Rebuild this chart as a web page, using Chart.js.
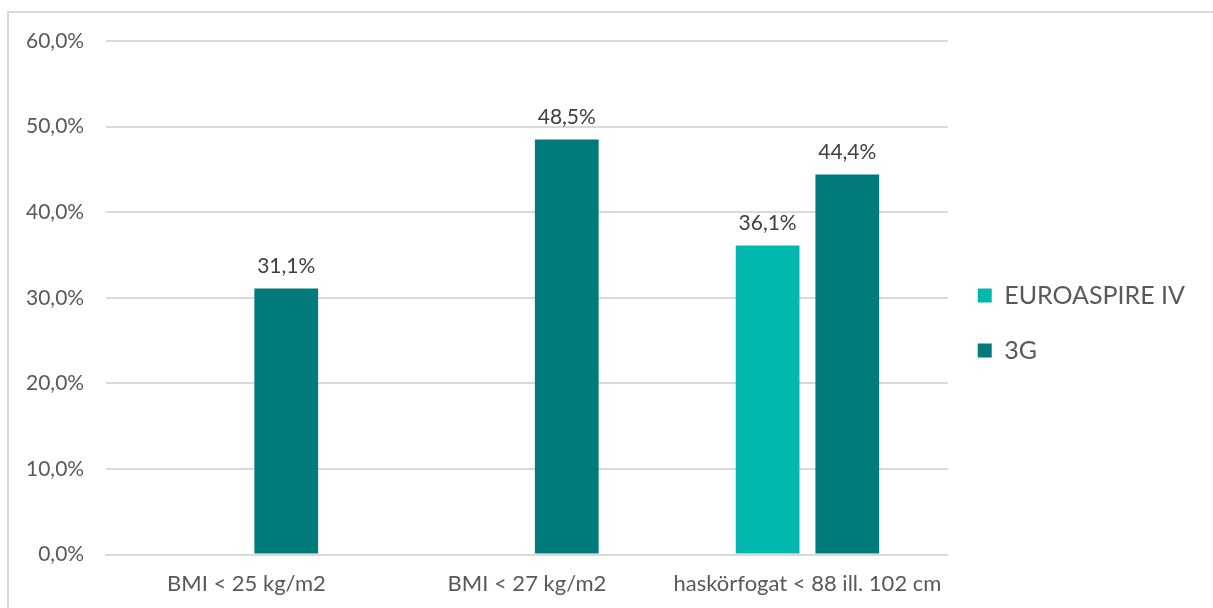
<!DOCTYPE html>
<html>
<head>
<meta charset="utf-8">
<script src="https://cdn.jsdelivr.net/npm/chart.js@4.4.0/dist/chart.umd.min.js"></script>
<style>
    body { margin: 0; background: #fff; overflow: hidden; }
    #frame {
        position: absolute; left: 7px; top: 11px;
        width: 1240px; height: 640px;
        border: 2px solid #d9d9d9;
    }
    #wrap { position: absolute; left: 0; top: 0; width: 1213px; height: 608px; }
</style>
</head>
<body>
<div id="frame"></div>
<div id="wrap"><canvas id="barChart"></canvas></div>
<script>
// data
const categories = ['BMI < 25 kg/m2', 'BMI < 27 kg/m2', 'haskörfogat < 88 ill. 102 cm'];
const euroaspire_values = [null, null, 36.1];
const g3_values = [31.1, 48.5, 44.4];
const y_ticks = [0, 10, 20, 30, 40, 50, 60];

const textColor = '#595959';
const fontFamily = 'Lato, "Open Sans", sans-serif';

function fmt(v) {
    return v.toFixed(1).replace('.', ',') + '%';
}

// draws the value above each bar
const barLabels = {
    id: 'barLabels',
    afterDatasetsDraw(chart) {
        const ctx = chart.ctx;
        ctx.save();
        ctx.fillStyle = '#404040';
        ctx.font = '21px ' + fontFamily;
        ctx.textAlign = 'center';
        ctx.textBaseline = 'bottom';
        chart.data.datasets.forEach((ds, i) => {
            const meta = chart.getDatasetMeta(i);
            meta.data.forEach((bar, j) => {
                const v = ds.data[j];
                if (v === null) return;
                ctx.fillText(fmt(v), bar.x, bar.y - 12);
            });
        });
        ctx.restore();
    }
};

const barCtx = document.getElementById('barChart').getContext('2d');
const barChart = new Chart(barCtx, {
    type: 'bar',
    data: {
        labels: categories,
        datasets: [
            {
                label: 'EUROASPIRE IV',
                data: euroaspire_values,
                backgroundColor: '#00b8ad',
                categoryPercentage: 0.568,
                barPercentage: 0.8
            },
            {
                label: '3G',
                data: g3_values,
                backgroundColor: '#007a7a',
                categoryPercentage: 0.568,
                barPercentage: 0.8
            }
        ]
    },
    options: {
        responsive: true,
        maintainAspectRatio: false,
        animation: false,
        layout: {
            padding: { left: 4, top: 41, right: 18, bottom: 3 }
        },
        plugins: {
            legend: {
                position: 'right',
                labels: {
                    color: textColor,
                    boxWidth: 14,
                    boxHeight: 14,
                    padding: 30,
                    font: { size: 25, family: fontFamily }
                }
            },
            tooltip: { enabled: false }
        },
        scales: {
            x: {
                grid: { display: false },
                border: { color: '#d9d9d9', width: 2 },
                ticks: {
                    color: textColor,
                    padding: 8,
                    font: { size: 22, family: fontFamily }
                }
            },
            y: {
                min: 0,
                max: 60,
                afterBuildTicks: (axis) => {
                    axis.ticks = y_ticks.map(v => ({ value: v }));
                },
                border: { display: false },
                grid: { color: '#d9d9d9', lineWidth: 2, drawTicks: false },
                ticks: {
                    color: textColor,
                    padding: 22,
                    font: { size: 21, family: fontFamily },
                    callback: (v) => fmt(v)
                }
            }
        }
    },
    plugins: [barLabels]
});
</script>
</body>
</html>
